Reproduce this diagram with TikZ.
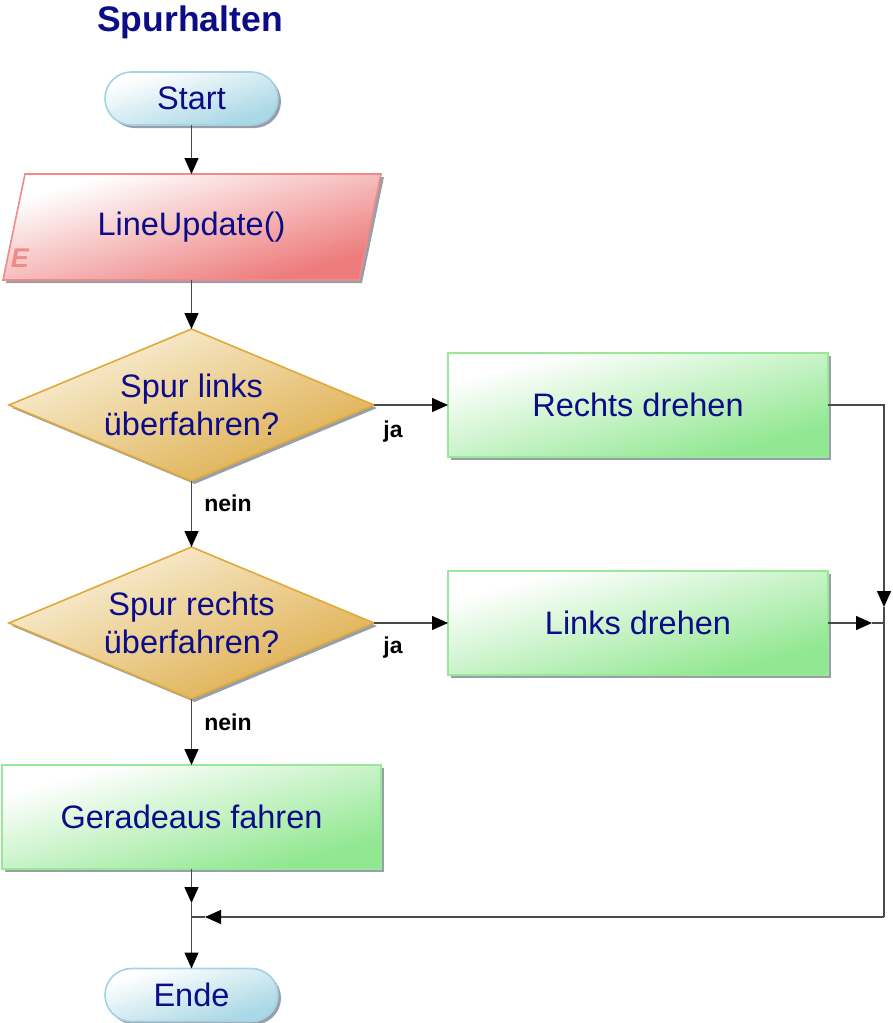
\documentclass[tikz,border=0pt]{standalone}
\usepackage{fontspec}
\setmainfont{Liberation Sans}
\usetikzlibrary{arrows.meta,shapes.geometric,shapes.misc,shadows,fadings}

\definecolor{navy}{HTML}{0C0C88}
\definecolor{termline}{HTML}{A4D2E2}
\definecolor{termfill}{HTML}{A9D8E6}
\definecolor{ioline}{HTML}{F08A8A}
\definecolor{iofill}{HTML}{EE7C7C}
\definecolor{decline}{HTML}{E0A93A}
\definecolor{decfill}{HTML}{DEAE4C}
\definecolor{decstart}{HTML}{FAF0D8}
\definecolor{procline}{HTML}{98E898}
\definecolor{procfill}{HTML}{92E892}
\definecolor{conn}{HTML}{4A4A4A}
\definecolor{shadowc}{HTML}{8C96A0}

% light corner (top left) fading out towards the bottom right corner
\tikzfading[name=diagfade, top color=transparent!0, bottom color=transparent!100, shading angle=45]

\tikzset{
  x=1pt, y=-1pt,
  every node/.style={outer sep=0pt, inner sep=0pt},
  txt/.style={font=\fontsize{32.5}{38}\selectfont, text=navy},
  shd/.style={drop shadow={shadow xshift=3pt, shadow yshift=-3pt, fill=shadowc, opacity=0.9}},
  gradfill/.style n args={3}{fill=#2,
    postaction={fill=#1, path fading=diagfade},
    postaction={draw=#3, line width=1.6pt}},
  terminal/.style={txt, rounded rectangle, minimum width=173pt, minimum height=53pt,
    shd, gradfill={white}{termfill}{termline}},
  decision/.style={txt, diamond, aspect=2.4, minimum width=365pt, minimum height=152pt,
    align=center, shd, gradfill={decstart}{decfill}{decline}},
  process/.style={txt, rectangle, minimum height=104pt,
    shd, gradfill={white}{procfill}{procline}},
  conline/.style={draw=conn, line width=1.4pt},
  arr/.style={conline, -{Triangle[length=16pt,width=14pt,color=black]}},
  lbl/.style={font=\fontsize{23}{26}\selectfont\bfseries, text=black},
}

\begin{document}
\begin{tikzpicture}
\useasboundingbox (0,0) rectangle (893,1023);

% title
\node[font=\fontsize{35.5}{40}\selectfont\bfseries, text=navy] (title) at (190,22) {Spurhalten};

% start terminal
\node[terminal] (start) at (191.5,98.5) {Start};

% input/output parallelogram with its shadow
\fill[shadowc, opacity=0.9] (28,177) -- (384,177) -- (362,283) -- (6,283) -- cycle;
\path[gradfill={white}{iofill}{ioline}]
  (25,174) -- (381,174) -- (359,280) -- (3,280) -- cycle;
\node[txt, minimum width=356pt, minimum height=106pt] (lu) at (191.5,227) {LineUpdate()};
\node[font=\fontsize{27}{29}\selectfont\bfseries\itshape, text=ioline] (emark) at (20,258) {E};

% decisions
\node[decision] (d1) at (191.5,405) {Spur links\\überfahren?};
\node[decision] (d2) at (191.5,623) {Spur rechts\\überfahren?};

% processes
\node[process, minimum width=380pt] (rd) at (638,405) {Rechts drehen};
\node[process, minimum width=380pt] (ld) at (638,623) {Links drehen};
\node[process, minimum width=379pt] (gf) at (191.5,817) {Geradeaus fahren};

% end terminal
\node[terminal] (ende) at (191.5,995) {Ende};

% branch labels
\node[lbl] (ja1) at (393,432) {ja};
\node[lbl] (ja2) at (393,648) {ja};
\node[lbl] (nein1) at (228,503) {nein};
\node[lbl] (nein2) at (228,722) {nein};

% junction points
\coordinate (jr) at (884,607);
\coordinate (jm) at (884,623);
\coordinate (jl) at (872,623);
\coordinate (jb) at (884,917);
\coordinate (ja) at (205,917);
\coordinate (jc) at (191.5,917);
\coordinate (jd) at (191.5,903);

% connectors
\draw[arr] (start.south) -- (lu.north);
\draw[arr] (lu.south) -- (d1.north);
\draw[arr] (d1.east) -- (rd.west);
\draw[arr] (d1.south) -- (d2.north);
\draw[arr] (d2.east) -- (ld.west);
\draw[arr] (d2.south) -- (gf.north);
\draw[arr] (rd.east) -| (jr);
\draw[conline] (jr) -- (jb);
\draw[arr] (ld.east) -- (jl);
\draw[conline] (jl) -- (jm);
\draw[arr] (jb) -- (ja);
\draw[conline] (ja) -- (jc);
\draw[arr] (gf.south) -- (jd);
\draw[arr] (jd) -- (ende.north);
\end{tikzpicture}
\end{document}
